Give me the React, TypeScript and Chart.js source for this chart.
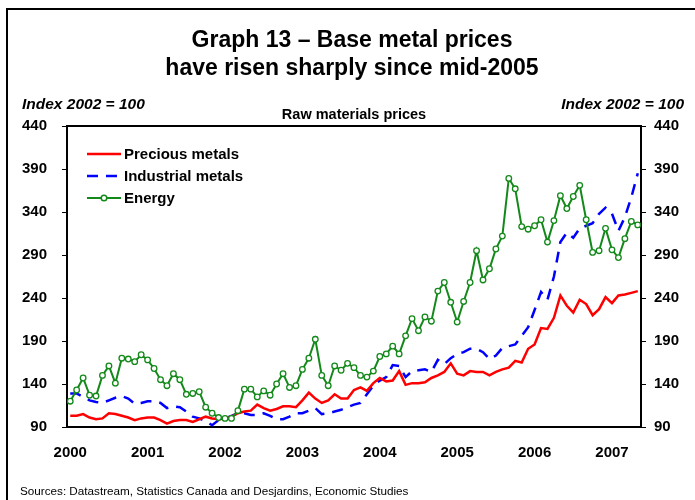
import React, { useEffect, useRef } from "react";
import { Chart, registerables } from "chart.js";

Chart.register(...registerables);

const FONT = "'Liberation Sans', Arial, Helvetica, sans-serif";

const years = ["2000", "2001", "2002", "2003", "2004", "2005", "2006", "2007"];
const yTicks = [90, 140, 190, 240, 290, 340, 390, 440];

// Monthly index values, Jan 2000 - May 2007 (2002 = 100)
const precious = [
  103, 103, 105, 101, 99, 100, 106, 105, 103, 101,
  98, 100, 101, 101, 98, 94, 97, 98, 98, 96,
  99, 102, 100, 99, 100, 102, 106, 108, 109, 116,
  112, 109, 111, 114, 114, 113, 121, 130, 123, 118,
  121, 128, 123, 123, 133, 136, 132, 141, 147, 143,
  144, 155, 139, 141, 141, 142, 147, 150, 154, 164,
  152, 150, 155, 154, 154, 150, 154, 157, 159, 167,
  165, 181, 186, 205, 204, 217, 243, 231, 223, 238,
  233, 220, 227, 241, 234, 243, 244, 246, 248,
];

const industrial = [
  129, 129, 125, 121, 119, 118, 121, 124, 126, 123,
  117, 118, 120, 120, 118, 112, 114, 113, 108, 102,
  100, 97, 92, 98, 100, 103, 106, 106, 104, 104,
  106, 103, 99, 99, 102, 106, 106, 109, 112, 105,
  106, 108, 110, 113, 116, 118, 128, 138, 144, 148,
  162, 161, 148, 155, 156, 157, 154, 168, 163, 170,
  175, 177, 181, 181, 177, 169, 173, 182, 184, 186,
  196, 206, 226, 247, 238, 265, 305, 316, 310, 321,
  324, 327, 338, 345, 338, 318, 334, 357, 385,
];

const energy = [
  120, 133, 147, 127, 126, 150, 161, 141, 170, 169,
  166, 174, 168, 158, 145, 138, 152, 145, 128, 129,
  131, 113, 106, 101, 100, 100, 109, 134, 134, 125,
  132, 127, 140, 152, 136, 138, 157, 170, 192, 150,
  138, 161, 156, 164, 159, 150, 148, 155, 172, 175,
  184, 175, 196, 216, 202, 218, 213, 248, 258, 235,
  212, 236, 258, 295, 261, 274, 297, 312, 379, 367,
  323, 320, 324, 331, 305, 330, 359, 344, 358, 371,
  331, 293, 295, 321, 296, 287, 309, 329, 325,
];

const seriesNames = ["Precious metals", "Industrial metals", "Energy"];
const titleLines = ["Graph 13 \u2013 Base metal prices", "have risen sharply since mid-2005"];
const axisTitle = "Index 2002 = 100";
const subTitle = "Raw materials prices";
const sourceText = "Sources: Datastream, Statistics Canada and Desjardins, Economic Studies";

const RED = "#ff0000";
const BLUE = "#0000ff";
const GREEN = "#13891a";

const toXY = (arr: number[]) => arr.map((v, i) => ({ x: i, y: v }));

const decoPlugin = {
  id: "deco",
  beforeDraw(chart: any) {
    const ctx = chart.ctx as CanvasRenderingContext2D;
    const w = chart.width;
    const h = chart.height;
    ctx.save();
    ctx.fillStyle = "#ffffff";
    ctx.fillRect(0, 0, w, h);
    // outer frame (top and left visible)
    ctx.fillStyle = "#000000";
    ctx.fillRect(6, 8, w - 6, 2);
    ctx.fillRect(6, 8, 2, h - 8);
    // title
    ctx.textAlign = "center";
    ctx.textBaseline = "middle";
    ctx.font = `bold 23px ${FONT}`;
    ctx.fillText(titleLines[0], 352, 41);
    ctx.fillText(titleLines[1], 352, 69);
    // axis unit labels
    ctx.font = `italic bold 15.5px ${FONT}`;
    ctx.textAlign = "left";
    ctx.fillText(axisTitle, 22, 105);
    ctx.textAlign = "right";
    ctx.fillText(axisTitle, 684, 105);
    // subtitle
    ctx.font = `bold 14.5px ${FONT}`;
    ctx.textAlign = "center";
    ctx.fillText(subTitle, 354, 115);
    // source
    ctx.font = `11.7px ${FONT}`;
    ctx.textAlign = "left";
    ctx.fillText(sourceText, 20, 492);
    ctx.restore();
  },
  beforeDatasetsDraw(chart: any) {
    const ctx = chart.ctx as CanvasRenderingContext2D;
    const a = chart.chartArea;
    ctx.save();
    ctx.strokeStyle = "#000000";
    ctx.lineWidth = 2;
    ctx.strokeRect(a.left, a.top, a.right - a.left, a.bottom - a.top);
    ctx.restore();
  },
  afterDatasetsDraw(chart: any) {
    const ctx = chart.ctx as CanvasRenderingContext2D;
    const a = chart.chartArea;
    const x0 = a.left + 20;
    const x1 = a.left + 54;
    const ys = [a.top + 28, a.top + 50, a.top + 72];
    ctx.save();
    ctx.lineWidth = 2.5;
    // precious
    ctx.strokeStyle = RED;
    ctx.beginPath();
    ctx.moveTo(x0, ys[0]);
    ctx.lineTo(x1, ys[0]);
    ctx.stroke();
    // industrial
    ctx.strokeStyle = BLUE;
    ctx.setLineDash([11, 8]);
    ctx.beginPath();
    ctx.moveTo(x0, ys[1]);
    ctx.lineTo(x1, ys[1]);
    ctx.stroke();
    ctx.setLineDash([]);
    // energy
    ctx.strokeStyle = GREEN;
    ctx.lineWidth = 2;
    ctx.beginPath();
    ctx.moveTo(x0, ys[2]);
    ctx.lineTo(x1, ys[2]);
    ctx.stroke();
    ctx.fillStyle = "#ffffff";
    ctx.lineWidth = 1.5;
    ctx.beginPath();
    ctx.arc((x0 + x1) / 2, ys[2], 2.8, 0, Math.PI * 2);
    ctx.fill();
    ctx.stroke();
    // labels
    ctx.fillStyle = "#000000";
    ctx.font = `bold 15px ${FONT}`;
    ctx.textAlign = "left";
    ctx.textBaseline = "middle";
    seriesNames.forEach((n, i) => ctx.fillText(n, x1 + 3, ys[i] + 1));
    ctx.restore();
  },
};

export default function App() {
  const ref = useRef<HTMLCanvasElement>(null);

  useEffect(() => {
    if (!ref.current) return;
    const tickFont = { family: FONT, size: 15, weight: "bold" as const };
    const yAxisBase = (pos: "left" | "right", width: number, padding: number) => ({
      type: "linear" as const,
      position: pos,
      min: 90,
      max: 440,
      afterBuildTicks: (s: any) => {
        s.ticks = yTicks.map((v) => ({ value: v }));
      },
      afterFit: (s: any) => {
        s.width = width;
      },
      grid: { drawOnChartArea: false, drawTicks: true, tickLength: 5, color: "#000000", lineWidth: 1 },
      border: { display: false },
      ticks: { font: tickFont, color: "#000000", padding },
    });

    const chart = new Chart(ref.current, {
      type: "line",
      data: {
        datasets: [
          {
            label: seriesNames[2],
            data: toXY(energy),
            borderColor: GREEN,
            borderWidth: 2,
            pointRadius: 2.8,
            pointBackgroundColor: "#ffffff",
            pointBorderColor: GREEN,
            pointBorderWidth: 1.3,
            tension: 0,
            order: 0,
            yAxisID: "y",
          },
          {
            label: seriesNames[0],
            data: toXY(precious),
            borderColor: RED,
            borderWidth: 2.5,
            pointRadius: 0,
            tension: 0,
            order: 1,
            yAxisID: "y",
          },
          {
            label: seriesNames[1],
            data: toXY(industrial),
            borderColor: BLUE,
            borderWidth: 2.5,
            borderDash: [11, 8],
            pointRadius: 0,
            tension: 0,
            order: 2,
            yAxisID: "y",
          },
        ],
      },
      options: {
        responsive: false,
        animation: false,
        devicePixelRatio: 1,
        layout: { padding: { top: 126, left: 0, right: 0, bottom: 0 } },
        plugins: {
          legend: { display: false },
          tooltip: { enabled: false },
          title: { display: false },
        },
        scales: {
          x: {
            type: "linear",
            min: -0.5,
            max: 88.5,
            afterBuildTicks: (s: any) => {
              s.ticks = years.map((_, k) => ({ value: k * 12 }));
            },
            afterFit: (s: any) => {
              s.height = 73;
            },
            grid: { display: false, drawTicks: false },
            border: { display: false },
            ticks: {
              font: tickFont,
              color: "#000000",
              padding: 17,
              autoSkip: false,
              maxRotation: 0,
              callback: (v: any) => years[Math.round(Number(v) / 12)] ?? "",
            },
          },
          y: yAxisBase("left", 67, 15) as any,
          y2: yAxisBase("right", 54, 8) as any,
        },
      },
      plugins: [decoPlugin],
    });
    return () => chart.destroy();
  }, []);

  return (
    <div style={{ position: "absolute", left: 0, top: 0, width: 695, height: 500, background: "#ffffff" }}>
      <canvas ref={ref} width={695} height={500} style={{ display: "block", width: 695, height: 500 }} />
    </div>
  );
}
